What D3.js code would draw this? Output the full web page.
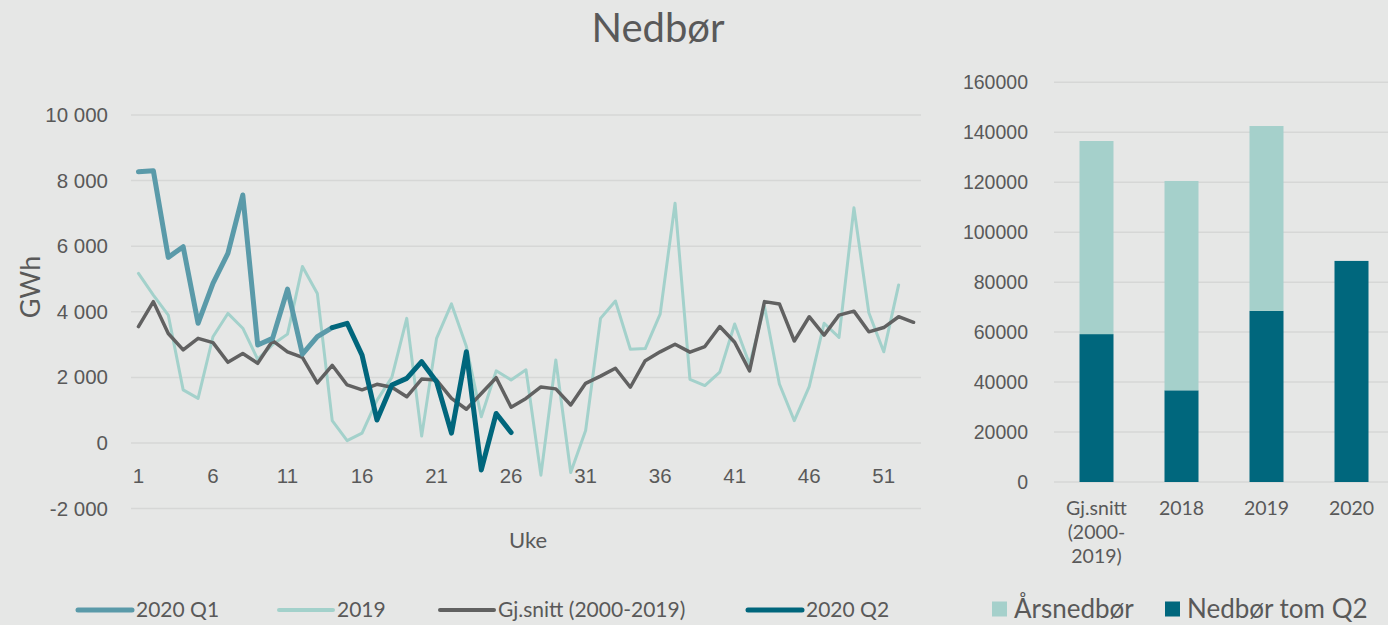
<!DOCTYPE html>
<html>
<head>
<meta charset="utf-8">
<script src="https://cdn.jsdelivr.net/npm/d3@7"></script>
<style>
  body { margin: 0; background: #e6e7e6; }
  svg { display: block; font-family: "Gill Sans", "Gill Sans MT", Lato, sans-serif; }
</style>
</head>
<body>
<div id="chart"></div>
<script>
// Weekly series (GWh)
var weeks = d3.range(1, 54);
var q1Weeks = d3.range(1, 15);
var q1Values = [8270, 8300, 5660, 5985, 3650, 4870, 5780, 7560, 2990, 3190, 4690, 2710, 3240, 3520];
var q2Weeks = d3.range(14, 27);
var q2Values = [3520, 3650, 2680, 700, 1770, 1970, 2480, 1870, 300, 2780, -820, 900, 320];
var values2019 = [5170, 4510, 3900, 1620, 1360, 3240, 3950, 3500, 2550, 3000,
                  3320, 5380, 4560, 680, 70, 300, 1300, 2000, 3800, 210,
                  3190, 4240, 2940, 800, 2200, 1920, 2230, -980, 2530, -900,
                  380, 3800, 4330, 2860, 2880, 3930, 7310, 1940, 1750, 2160,
                  3630, 2400, 4160, 1800, 680, 1720, 3650, 3220, 7170, 3970,
                  2780, 4820];
var valuesAvg = [3550, 4310, 3340, 2840, 3190, 3060, 2460, 2730, 2430, 3120,
                 2780, 2610, 1830, 2370, 1770, 1620, 1790, 1700, 1410, 1950,
                 1920, 1360, 1030, 1510, 1990, 1090, 1360, 1710, 1650, 1160,
                 1820, 2040, 2280, 1700, 2510, 2780, 3010, 2770, 2940, 3550,
                 3070, 2200, 4310, 4240, 3110, 3850, 3290, 3900, 4020, 3390,
                 3520, 3850, 3680];
var lineTicks = [-2000, 0, 2000, 4000, 6000, 8000, 10000];

// Yearly stacked bars
var barCategories = ['Gj.snitt (2000-2019)', '2018', '2019', '2020'];
var barLabelLines = [['Gj.snitt', '(2000-', '2019)'], ['2018'], ['2019'], ['2020']];
var q2Totals = [59200, 36700, 68500, 88500];
var restOfYear = [77300, 83800, 74000, 0];
var barTicks = [0, 20000, 40000, 60000, 80000, 100000, 120000, 140000, 160000];

var textColor = '#595959';
var gridColor = '#d6d7d6';

var svg = d3.select('#chart').append('svg')
  .attr('width', 1388)
  .attr('height', 625);

// Title
svg.append('text')
  .attr('x', 658)
  .attr('y', 42)
  .attr('text-anchor', 'middle')
  .attr('font-size', 40)
  .attr('fill', textColor)
  .text('Nedbør');

// ---------- Line chart ----------
var x = d3.scaleBand().domain(weeks).range([131, 921]);
var xc = function(w) { return x(w) + x.bandwidth() / 2; };
var y = d3.scaleLinear().domain([-2000, 10000]).range([508.6, 115]);

var left = svg.append('g');

left.selectAll('.grid')
  .data(lineTicks)
  .enter().append('line')
  .attr('x1', 131).attr('x2', 921)
  .attr('y1', function(d) { return y(d); })
  .attr('y2', function(d) { return y(d); })
  .attr('stroke', gridColor)
  .attr('stroke-width', 1.5);

// thousands with a space, plain hyphen for negatives
var gwhFormat = function(d) {
  return (d < 0 ? '-' : '') + d3.format(',')(Math.abs(d)).replace(/,/g, ' ');
};

var yAxis = left.append('g')
  .attr('transform', 'translate(131,0)')
  .call(d3.axisLeft(y).tickValues(lineTicks).tickSize(0).tickPadding(23).tickFormat(gwhFormat));
yAxis.select('.domain').remove();
yAxis.selectAll('text').attr('font-size', 20.5).attr('fill', textColor)
  .attr('font-family', null);

var xAxis = left.append('g')
  .attr('transform', 'translate(0,' + (y(0) + 25) + ')')
  .call(d3.axisBottom(x).tickValues(weeks.filter(function(w) { return (w - 1) % 5 === 0; }))
    .tickSize(0).tickPadding(0));
xAxis.select('.domain').remove();
xAxis.selectAll('text').attr('font-size', 20.5).attr('fill', textColor)
  .attr('font-family', null);

left.append('text')
  .attr('transform', 'translate(40,287) rotate(-90)')
  .attr('text-anchor', 'middle')
  .attr('font-size', 27)
  .attr('fill', textColor)
  .text('GWh');

left.append('text')
  .attr('x', 528)
  .attr('y', 548)
  .attr('text-anchor', 'middle')
  .attr('font-size', 22)
  .attr('fill', textColor)
  .text('Uke');

var lineGen = d3.line()
  .x(function(d) { return xc(d[0]); })
  .y(function(d) { return y(d[1]); });

var series = [
  { name: '2019', weeks: weeks.slice(0, values2019.length), values: values2019, color: '#a3d1cb', width: 3 },
  { name: 'Gj.snitt (2000-2019)', weeks: weeks, values: valuesAvg, color: '#616161', width: 3.5 },
  { name: '2020 Q1', weeks: q1Weeks, values: q1Values, color: '#5a9aa9', width: 5 },
  { name: '2020 Q2', weeks: q2Weeks, values: q2Values, color: '#00667c', width: 5 }
];

left.selectAll('.series')
  .data(series)
  .enter().append('path')
  .attr('class', 'series')
  .attr('fill', 'none')
  .attr('stroke', function(d) { return d.color; })
  .attr('stroke-width', function(d) { return d.width; })
  .attr('stroke-linejoin', 'round')
  .attr('stroke-linecap', 'round')
  .attr('d', function(d) { return lineGen(d3.zip(d.weeks, d.values)); });

// legend under the line chart
var legendOrder = ['2020 Q1', '2019', 'Gj.snitt (2000-2019)', '2020 Q2'];
var legendX = [78, 279, 440, 748];
var legend = left.selectAll('.legend')
  .data(legendOrder.map(function(n) { return series.find(function(s) { return s.name === n; }); }))
  .enter().append('g')
  .attr('transform', function(d, i) { return 'translate(' + legendX[i] + ',610)'; });
legend.append('line')
  .attr('x1', 0).attr('x2', 54)
  .attr('stroke', function(d) { return d.color; })
  .attr('stroke-width', function(d) { return d.width === 5 ? 5 : 4; })
  .attr('stroke-linecap', 'round');
legend.append('text')
  .attr('x', 58)
  .attr('dy', '0.35em')
  .attr('font-size', 21)
  .attr('fill', textColor)
  .text(function(d) { return d.name; });

// ---------- Bar chart ----------
var xb = d3.scaleBand().domain(barCategories).range([1054, 1394]);
var yb = d3.scaleLinear().domain([0, 160000]).range([482, 82.3]);
var barWidth = 34;

var right = svg.append('g');

right.selectAll('.grid')
  .data(barTicks)
  .enter().append('line')
  .attr('x1', 1054).attr('x2', 1388)
  .attr('y1', function(d) { return yb(d); })
  .attr('y2', function(d) { return yb(d); })
  .attr('stroke', gridColor)
  .attr('stroke-width', 1.5);

var ybAxis = right.append('g')
  .attr('transform', 'translate(1054,0)')
  .call(d3.axisLeft(yb).tickValues(barTicks).tickSize(0).tickPadding(26).tickFormat(d3.format('d')));
ybAxis.select('.domain').remove();
ybAxis.selectAll('text').attr('font-size', 19.5).attr('fill', textColor)
  .attr('font-family', null);

var stackData = barCategories.map(function(c, i) {
  return { cat: c, q2: q2Totals[i], rest: restOfYear[i] };
});
var stacked = d3.stack().keys(['q2', 'rest'])(stackData);
var barColors = { q2: '#00677d', rest: '#a5d0cb' };

right.selectAll('.layer')
  .data(stacked)
  .enter().append('g')
  .attr('fill', function(d) { return barColors[d.key]; })
  .selectAll('rect')
  .data(function(d) { return d; })
  .enter().append('rect')
  .attr('x', function(d) { return xb(d.data.cat) + xb.bandwidth() / 2 - barWidth / 2; })
  .attr('width', barWidth)
  .attr('y', function(d) { return yb(d[1]); })
  .attr('height', function(d) { return yb(d[0]) - yb(d[1]); });

var catLabels = right.selectAll('.cat')
  .data(barCategories)
  .enter().append('text')
  .attr('text-anchor', 'middle')
  .attr('font-size', 19.5)
  .attr('fill', textColor)
  .attr('x', function(d) { return xb(d) + xb.bandwidth() / 2; })
  .attr('y', 515);
catLabels.selectAll('tspan')
  .data(function(d, i) { return barLabelLines[i]; })
  .enter().append('tspan')
  .attr('x', function() { return d3.select(this.parentNode).attr('x'); })
  .attr('dy', function(d, i) { return i === 0 ? 0 : 24; })
  .text(function(d) { return d; });

var barLegend = [
  { label: 'Årsnedbør', color: barColors.rest, x: 992 },
  { label: 'Nedbør tom Q2', color: barColors.q2, x: 1165 }
];
var bl = right.selectAll('.blegend')
  .data(barLegend)
  .enter().append('g')
  .attr('transform', function(d) { return 'translate(' + d.x + ',609)'; });
bl.append('rect')
  .attr('x', 0).attr('y', -7.5)
  .attr('width', 15).attr('height', 15)
  .attr('fill', function(d) { return d.color; });
bl.append('text')
  .attr('x', 22)
  .attr('dy', '0.36em')
  .attr('font-size', 26)
  .attr('fill', textColor)
  .text(function(d) { return d.label; });
</script>
</body>
</html>
